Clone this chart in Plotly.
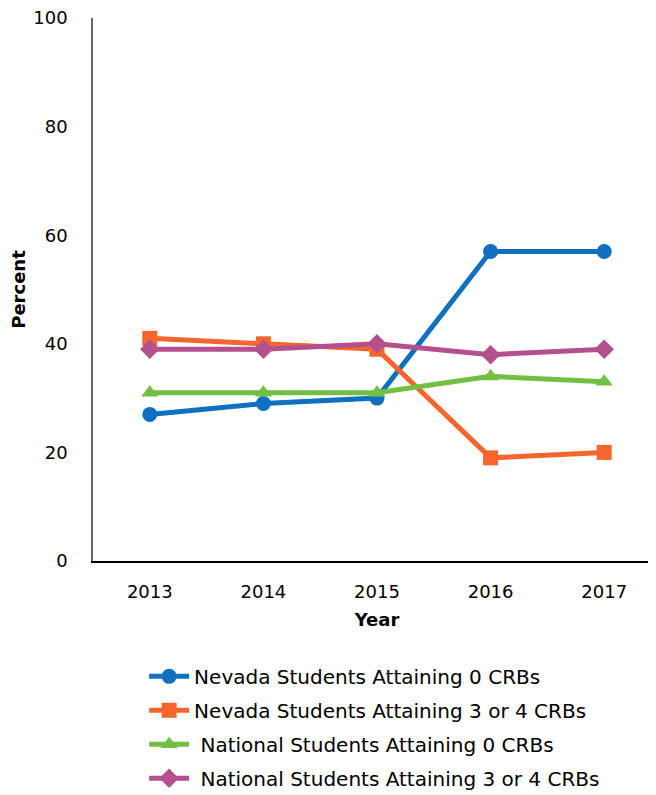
import plotly.graph_objects as go

years = ["2013", "2014", "2015", "2016", "2017"]
nv_zero = [27, 29, 30, 57, 57]
nv_three_four = [41, 40, 39, 19, 20]
nat_zero = [31, 31, 31, 34, 33]
nat_three_four = [39, 39, 40, 38, 39]

series = [
    ("Nevada Students Attaining 0 CRBs", nv_zero, "#0E70BE", "circle"),
    ("Nevada Students Attaining 3 or 4 CRBs", nv_three_four, "#F4662B", "square"),
    (" National Students Attaining 0 CRBs", nat_zero, "#72BF44", "triangle-up"),
    (" National Students Attaining 3 or 4 CRBs", nat_three_four, "#B5508E", "diamond"),
]

font_family = "DejaVu Sans, Verdana, sans-serif"

fig = go.Figure()
for i, (name, vals, color, sym) in enumerate(series):
    fig.add_trace(go.Scatter(
        x=years, y=vals, name=name, mode="lines+markers",
        legendgroup=f"g{i}",
        line=dict(color=color, width=5),
        marker=dict(symbol=sym, size=15, color=color),
    ))

fig.update_layout(
    width=653, height=810,
    margin=dict(l=85, r=0, t=10, b=257),
    paper_bgcolor="white", plot_bgcolor="white",
    font=dict(family=font_family, size=18, color="black"),
    showlegend=True,
    legend=dict(
        x=0.09, y=-0.1765, xanchor="left", yanchor="top",
        font=dict(size=20), tracegroupgap=5, itemwidth=40,
    ),
    xaxis=dict(
        type="category", range=[-0.5, 4.5], automargin=False,
        showline=True, linecolor="black", linewidth=1.5,
        showgrid=False, ticks="", ticklabelstandoff=14,
        title=dict(text="<b>Year</b>", font=dict(size=18), standoff=12),
    ),
    yaxis=dict(
        range=[0, 100], dtick=20, automargin=False,
        showline=True, linecolor="#666", linewidth=1.5,
        showgrid=False, ticks="", ticklabelstandoff=20, zeroline=False,
        ticklabeloverflow="allow",
        title=dict(text="<b>Percent</b>", font=dict(size=18), standoff=14),
    ),
)

fig.write_html("out.html")
